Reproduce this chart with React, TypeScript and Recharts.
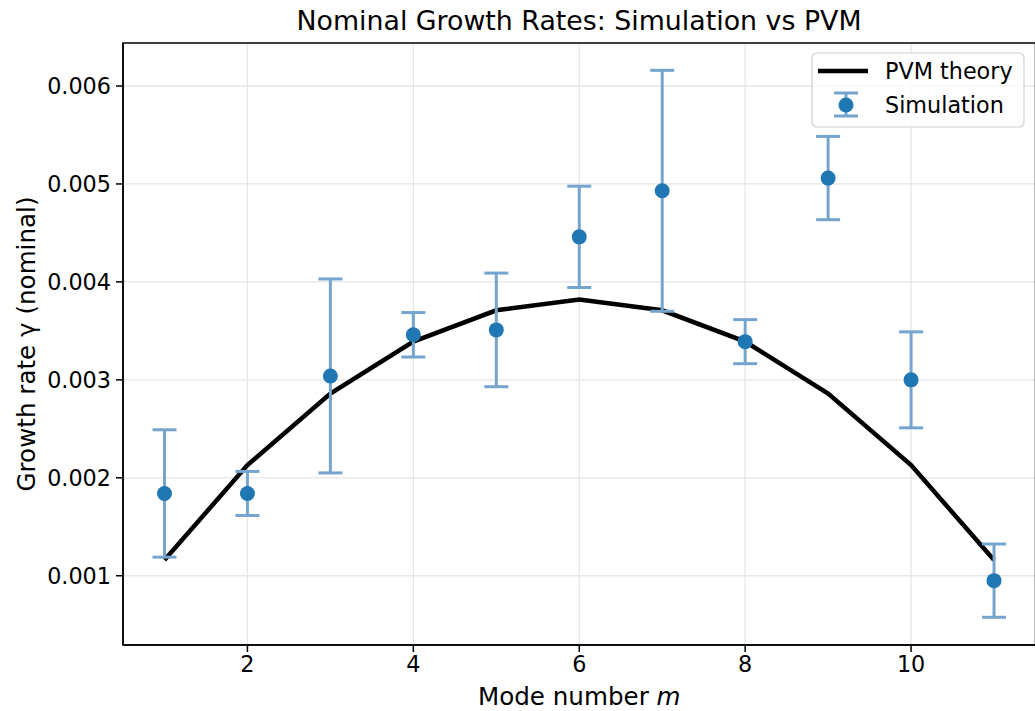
import React from 'react';
import {
  ComposedChart,
  Line,
  Scatter,
  ErrorBar,
  XAxis,
  YAxis,
  CartesianGrid,
  ReferenceArea,
  Legend,
  Label,
} from 'recharts';

const modes = [1, 2, 3, 4, 5, 6, 7, 8, 9, 10, 11];
const pvmTheory = [0.00116, 0.00213, 0.00286, 0.00339, 0.00371, 0.00382, 0.00371, 0.00339, 0.00286, 0.00213, 0.00116];
const simGrowth = [0.00184, 0.00184, 0.00304, 0.00346, 0.00351, 0.00446, 0.00493, 0.00339, 0.00506, 0.003, 0.00095];
const simError = [0.00065, 0.000225, 0.00099, 0.000227, 0.00058, 0.000517, 0.00123, 0.000225, 0.000425, 0.00049, 0.000374];
const xTicks = [2, 4, 6, 8, 10];
const yTicks = [0.001, 0.002, 0.003, 0.004, 0.005, 0.006];
const xDomain = [0.5, 11.5];
const yDomain = [0.000293, 0.006439];

const title = 'Nominal Growth Rates: Simulation vs PVM';
const xLabel = 'Mode number ';
const xLabelVar = 'm';
const yLabel = 'Growth rate γ (nominal)';
const theoryName = 'PVM theory';
const simName = 'Simulation';

const data = modes.map((m, i) => ({
  m,
  theory: pvmTheory[i],
  sim: simGrowth[i],
  err: simError[i],
}));

const FONT = '"DejaVu Sans", sans-serif';
const SIM_COLOR = '#1f77b4';
const ERR_COLOR = '#75a5cf';
const TICK_FS = 22.3;
const LABEL_FS = 24.6;

const XAxisLabel = (props: any) => {
  const vb = props.viewBox || {};
  const cx = vb.x + vb.width / 2;
  return (
    <text x={cx} y={705} textAnchor="middle" fontFamily={FONT} fontSize={LABEL_FS} fill="#000">
      {xLabel}
      <tspan fontStyle="italic">{xLabelVar}</tspan>
    </text>
  );
};

const YAxisLabel = (props: any) => {
  const vb = props.viewBox || {};
  const cy = vb.y + vb.height / 2;
  const x = 35;
  return (
    <text
      x={x}
      y={cy}
      transform={`rotate(-90 ${x} ${cy})`}
      textAnchor="middle"
      fontFamily={FONT}
      fontSize={LABEL_FS}
      fill="#000"
    >
      {yLabel}
    </text>
  );
};

const LegendBox = () => (
  <svg width={216} height={76} style={{ display: 'block' }}>
    <rect x={1} y={1} width={212} height={74} rx={5} ry={5} fill="#fff" fillOpacity={0.8} stroke="#d0d0d0" strokeWidth={1.2} />
    <line x1={7} y1={19} x2={57} y2={19} stroke="#000" strokeWidth={4.5} />
    <text x={74} y={27} fontFamily={FONT} fontSize={TICK_FS} fill="#000">{theoryName}</text>
    <line x1={35} y1={41} x2={35} y2={64} stroke={ERR_COLOR} strokeWidth={3} />
    <line x1={23} y1={41} x2={47} y2={41} stroke={ERR_COLOR} strokeWidth={3} />
    <line x1={23} y1={64} x2={47} y2={64} stroke={ERR_COLOR} strokeWidth={3} />
    <circle cx={35} cy={53} r={7.5} fill={SIM_COLOR} />
    <text x={74} y={61} fontFamily={FONT} fontSize={TICK_FS} fill="#000">{simName}</text>
  </svg>
);

const SimDot = (props: any) => {
  const { cx, cy } = props;
  if (cx == null || cy == null) return null;
  return <circle cx={cx} cy={cy} r={7.5} fill={SIM_COLOR} />;
};

export default function App() {
  return (
    <div style={{ position: 'absolute', left: 0, top: 0, width: 1035, height: 711, overflow: 'hidden', background: '#fff' }}>
      <svg width={1035} height={40} style={{ position: 'absolute', left: 0, top: 0 }}>
        <text x={579} y={30} textAnchor="middle" fontFamily={FONT} fontSize={26.8} fill="#000">
          {title}
        </text>
      </svg>
      <div style={{ position: 'absolute', left: 0, top: 0 }}>
        <ComposedChart
          width={1060}
          height={711}
          data={data}
          margin={{ top: 43, right: 24.5, bottom: 0, left: 0 }}
        >
          <CartesianGrid stroke="#e6e6e6" strokeWidth={1.3} horizontalValues={yTicks} verticalValues={xTicks} />
          <XAxis
            dataKey="m"
            type="number"
            domain={xDomain}
            ticks={xTicks}
            allowDataOverflow
            height={66}
            tickSize={7}
            tickMargin={4}
            axisLine={{ stroke: '#000', strokeWidth: 1.5 }}
            tickLine={{ stroke: '#000', strokeWidth: 1.5 }}
            tick={{ fill: '#000', fontSize: TICK_FS, fontFamily: FONT }}
          >
            <Label content={<XAxisLabel />} />
          </XAxis>
          <YAxis
            type="number"
            domain={yDomain}
            ticks={yTicks}
            allowDataOverflow
            width={123}
            tickSize={7}
            tickMargin={5}
            tickFormatter={(v: number) => v.toFixed(3)}
            axisLine={{ stroke: '#000', strokeWidth: 1.5 }}
            tickLine={{ stroke: '#000', strokeWidth: 1.5 }}
            tick={{ fill: '#000', fontSize: TICK_FS, fontFamily: FONT }}
          >
            <Label content={<YAxisLabel />} />
          </YAxis>
          <ReferenceArea
            x1={xDomain[0]}
            x2={xDomain[1]}
            y1={yDomain[0]}
            y2={yDomain[1]}
            fill="none"
            stroke="#000"
            strokeWidth={1.5}
            ifOverflow="visible"
          />
          <Line
            dataKey="theory"
            name={theoryName}
            stroke="#000"
            strokeWidth={4.5}
            dot={false}
            activeDot={false}
            isAnimationActive={false}
            type="linear"
          />
          <Scatter dataKey="sim" name={simName} fill={SIM_COLOR} shape={<SimDot />} isAnimationActive={false}>
            <ErrorBar dataKey="err" direction="y" width={12} stroke={ERR_COLOR} strokeWidth={3} isAnimationActive={false} />
          </Scatter>
          <Legend
            layout="horizontal"
            verticalAlign="middle"
            align="center"
            content={<LegendBox />}
            wrapperStyle={{ position: 'absolute', left: 811, top: 52, width: 216, height: 76 }}
          />
        </ComposedChart>
      </div>
    </div>
  );
}
